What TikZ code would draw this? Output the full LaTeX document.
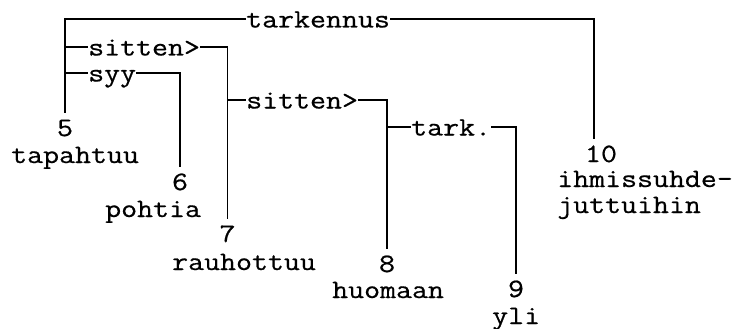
\documentclass[tikz,border=0pt]{standalone}
\usepackage{fontspec}
\newfontfamily\mono[FakeStretch=1.17,FakeBold=0.6]{Latin Modern Mono}
\begin{document}
\begin{tikzpicture}[x=1pt,y=-1pt,
  base/.style={font=\mono\fontsize{26.5}{26.5}\selectfont, inner sep=0pt},
  lab/.style={base, anchor=west, text height=17pt, text depth=0pt},
  num/.style={base, anchor=base, text height=16pt, text depth=0pt, inner ysep=7pt},
  word/.style={base, anchor=base west},
  conn/.style={line width=1.2pt}]
\useasboundingbox (0,0) rectangle (733,329);
% number nodes
\node[num] (n5) at (65,136) {5};
\node[num] (n6) at (180,190) {6};
\node[num] (n7) at (227.5,242) {7};
\node[num] (n8) at (387,272) {8};
\node[num] (n9) at (516,297) {9};
\node[num] (n10) at (601,162) {10};
% words
\node[word] (w5) at (11,163) {tapahtuu};
\node[word] (w6) at (105,217) {pohtia};
\node[word] (w7) at (172,270) {rauhottuu};
\node[word] (w8) at (332,298) {huomaan};
\node[word] (w9) at (492,324) {yli};
\node[word] (w10a) at (557,187) {ihmissuhde-};
\node[word] (w10b) at (557,213) {juttuihin};
% relation labels
\node[lab] (tarkennus) at (246,19) {tarkennus};
\node[lab] (sit1) at (88,47) {sitten>};
\node[lab] (syy) at (88,73) {syy};
\node[lab] (sit2) at (246,100) {sitten>};
\node[lab] (tark) at (411,127) {tark.};
% connectors
\draw[conn] (n5.north) |- (tarkennus.west);
\draw[conn] (tarkennus.east) -| ([xshift=-7pt]n10.north);
\draw[conn] (n5.north |- sit1.west) -- (sit1.west);
\draw[conn] (sit1.east) -| (n7.north);
\draw[conn] (n5.north |- syy.west) -- (syy.west);
\draw[conn] (syy.east) -| (n6.north);
\draw[conn] (n7.north |- sit2.west) -- (sit2.west);
\draw[conn] (sit2.east) -| (n8.north);
\draw[conn] (n8.north |- tark.west) -- (tark.west);
\draw[conn] (tark.east) -| (n9.north);
\end{tikzpicture}
\end{document}
